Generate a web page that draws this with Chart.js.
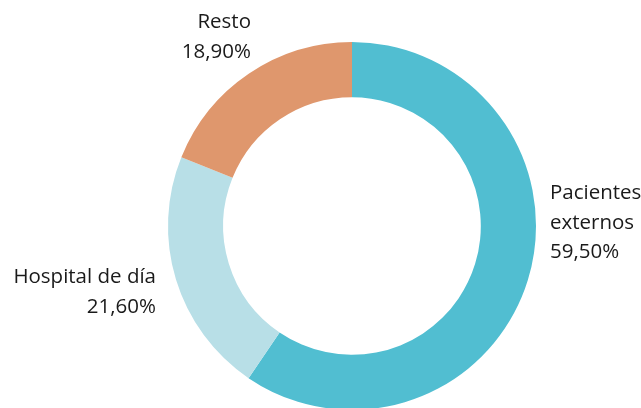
<!DOCTYPE html>
<html>
<head>
<meta charset="utf-8">
<script src="https://cdn.jsdelivr.net/npm/chart.js@4/dist/chart.umd.min.js"></script>
<style>
  html, body { margin: 0; padding: 0; background: #fff; overflow: hidden; }
  #wrap { position: relative; width: 641px; height: 452px; }
</style>
</head>
<body>
<div id="wrap"><canvas id="c" width="641" height="452"></canvas></div>
<script>
const categories = ["Pacientes externos", "Hospital de día", "Resto"];
const values = [59.5, 21.6, 18.9];
const valueLabels = ["59,50%", "21,60%", "18,90%"];
const labelLines = [["Pacientes", "externos"], ["Hospital de día"], ["Resto"]];
const colors = ["#51BED1", "#B8DFE7", "#DF976D"];

const FONT = '20.5px "Open Sans", sans-serif';
const LINE = 29.5;

// label layout relative to arc geometry (center cx,cy and outer radius R)
const labelLayout = [
  { align: "left",  x: (cx, R) => cx + R + 14, y0: (cy, R) => cy - 27 },
  { align: "right", x: (cx, R) => cx - R - 12, y0: (cy, R) => cy + 57 },
  { align: "right", x: (cx, R) => cx - 101,    y0: (cy, R) => cy - 198 }
];

const labelPlugin = {
  id: "sliceLabels",
  afterDatasetsDraw(chart) {
    const ctx = chart.ctx;
    const meta = chart.getDatasetMeta(0);
    ctx.save();
    ctx.font = FONT;
    ctx.fillStyle = "#1a1a1a";
    ctx.textBaseline = "alphabetic";
    meta.data.forEach((arc, i) => {
      const p = arc.getProps(["x", "y", "outerRadius"], true);
      const L = labelLayout[i];
      const lines = labelLines[i].concat([valueLabels[i]]);
      ctx.textAlign = L.align;
      const x = L.x(p.x, p.outerRadius);
      let y = L.y0(p.y, p.outerRadius);
      lines.forEach((t) => { ctx.fillText(t, x, y); y += LINE; });
    });
    ctx.restore();
  }
};

new Chart(document.getElementById("c"), {
  type: "doughnut",
  data: {
    labels: categories,
    datasets: [{
      data: values,
      backgroundColor: colors,
      borderWidth: 0
    }]
  },
  options: {
    responsive: false,
    animation: false,
    cutout: "70%",
    rotation: 0,
    layout: { padding: { left: 168, right: 105, top: 42, bottom: 42 } },
    plugins: { legend: { display: false }, tooltip: { enabled: false } }
  },
  plugins: [labelPlugin]
});
</script>
</body>
</html>
